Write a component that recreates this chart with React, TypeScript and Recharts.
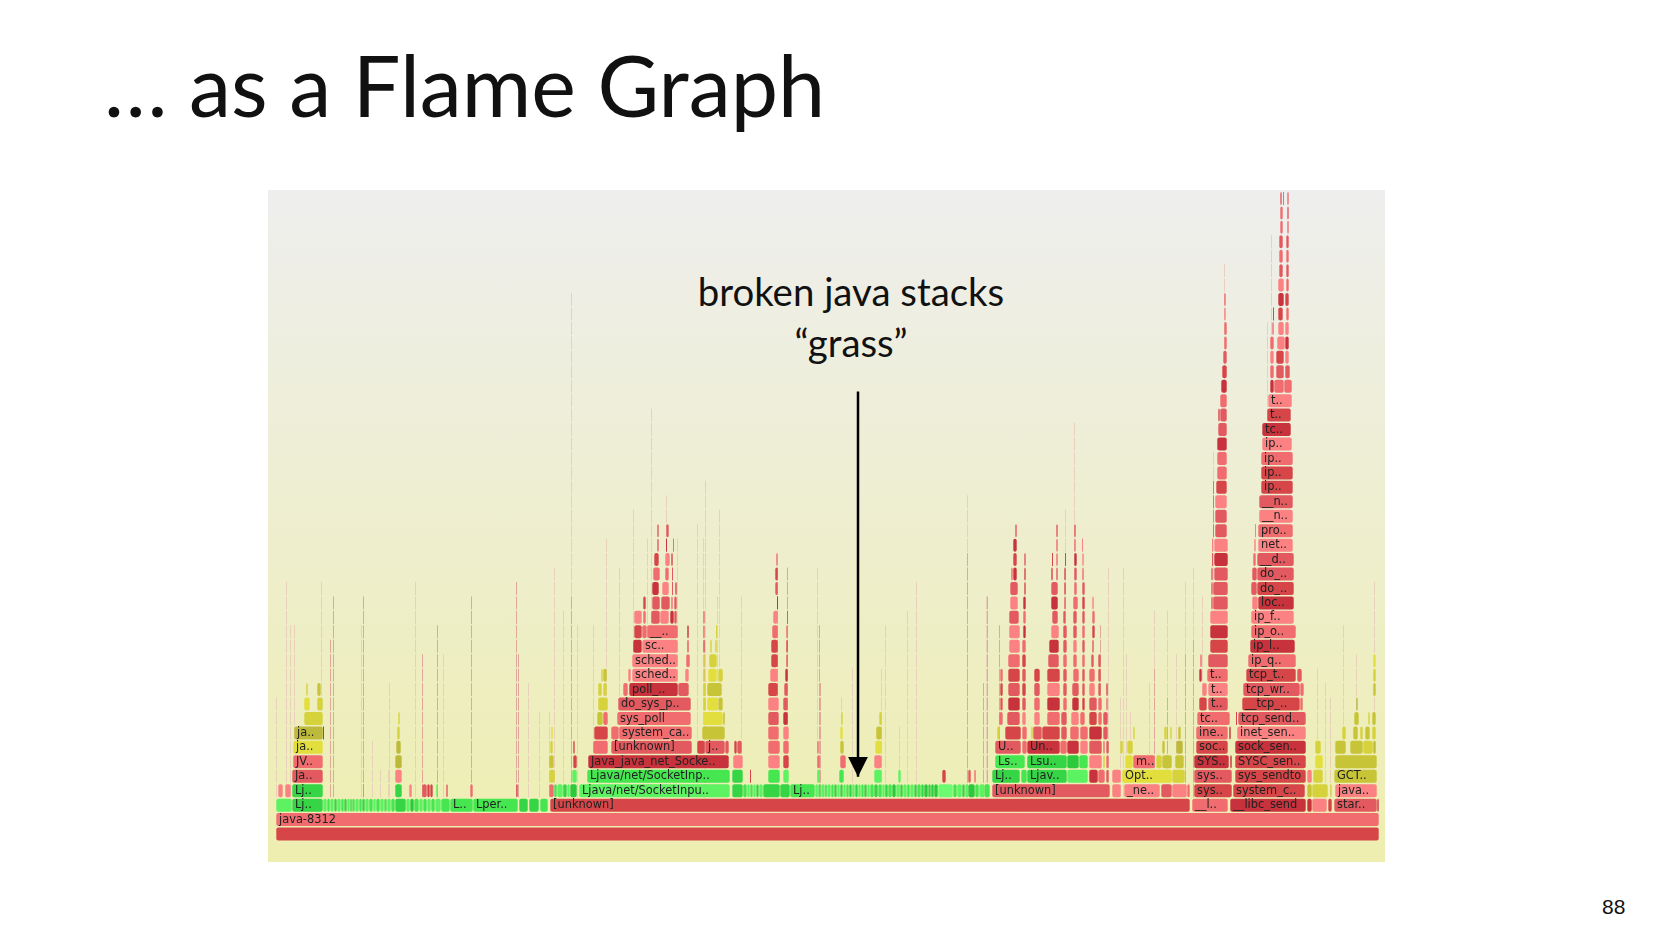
import { Bar, BarChart, LabelList, ReferenceLine, XAxis, YAxis } from 'recharts';

type Frame = [number, number, string, string?];

// tone keys map to PALETTE, x is in samples, one row per stack depth
const row0: Frame[] = [[0, 1103, 'r2']];
const row1: Frame[] = [[0, 1103, 'r4', 'java-8312']];
const row2: Frame[] = [
  [0, 16, 'g3'], [16, 47, 'g1', 'Lj..'], [47, 51, 'g3'], [51, 54, 'g2'], [54, 58, 'g3'], [58, 61, 'g1'], [61, 65, 'g3'],
  [65, 68, 'g2'], [68, 71, 'g1'], [71, 74, 'g3'], [74, 76, 'g1'], [76, 79, 'g2'], [79, 83, 'g3'], [83, 86, 'g2'],
  [86, 89, 'g1'], [89, 93, 'g3'], [93, 97, 'g2'], [97, 100, 'g3'], [100, 104, 'g2'], [104, 108, 'g3'], [108, 111, 'g2'],
  [111, 115, 'g3'], [115, 119, 'g2'], [119, 130, 'g1'], [130, 134, 'g3'], [134, 138, 'g0'], [138, 143, 'g2'], [143, 147, 'g3'],
  [147, 151, 'g2'], [151, 155, 'g3'], [155, 159, 'g2'], [159, 165, 'g3'], [165, 174, 'g2'], [174, 197, 'g2', 'L..'],
  [197, 242, 'g2', 'Lper..'], [243, 252, 'g1'], [253, 263, 'g1'], [264, 272, 'g2'], [274, 914, 'r2', '[unknown]'],
  [916, 952, 'r4', '__l..'], [954, 1030, 'r1', '__libc_send'], [1031, 1036, 'r1'], [1036, 1051, 'r5'], [1052, 1056, 'r2'],
  [1058, 1101, 'r3', 'star..'], [1101, 1103, 'r1'],
];
const row3: Frame[] = [
  [2, 7, 'r5'], [9, 15, 'r5'], [16, 47, 'g1', 'Lj..'], [87, 88, 'g2'], [119, 126, 'g1'], [133, 136, 'r5'], [146, 151, 'r3'],
  [151, 154, 'r2'], [154, 157, 'r2'], [160, 162, 'g3'], [170, 172, 'r3'], [194, 197, 'r4'], [240, 242, 'r2'],
  [273, 278, 'r4'], [278, 281, 'g2'], [281, 287, 'g3'], [287, 291, 'g1'], [291, 294, 'g3'], [294, 301, 'g0'],
  [303, 454, 'g3', 'Ljava/net/SocketInpu..'], [456, 467, 'g1'], [467, 471, 'g2'], [471, 474, 'g3'], [474, 477, 'g2'],
  [477, 480, 'g3'], [480, 483, 'g1'], [483, 487, 'g3'], [487, 504, 'g1'], [504, 514, 'g1'], [514, 539, 'g2', 'Lj..'],
  [539, 542, 'g3'], [542, 545, 'g2'], [545, 549, 'g3'], [549, 551, 'g1'], [551, 555, 'g3'], [555, 558, 'g2'], [558, 561, 'g1'],
  [561, 564, 'g3'], [564, 567, 'g1'], [567, 570, 'g3'], [570, 573, 'g2'], [573, 576, 'g1'], [576, 579, 'g3'], [579, 582, 'g1'],
  [582, 585, 'g3'], [585, 588, 'g2'], [588, 591, 'g1'], [591, 594, 'g3'], [594, 598, 'g2'], [598, 602, 'g1'], [602, 606, 'g2'],
  [606, 609, 'g3'], [609, 612, 'g1'], [612, 616, 'g2'], [616, 620, 'g0'], [620, 624, 'g3'], [624, 627, 'g1'], [627, 631, 'g3'],
  [631, 634, 'g2'], [634, 638, 'g3'], [638, 641, 'g1'], [641, 645, 'g2'], [645, 648, 'g1'], [648, 652, 'g0'], [652, 655, 'g1'],
  [655, 658, 'g0'], [658, 662, 'g0'], [662, 677, 'g4'], [677, 681, 'g2'], [681, 686, 'g3'], [686, 689, 'g1'], [689, 692, 'g3'],
  [692, 699, 'g0'], [699, 703, 'g2'], [703, 708, 'g3'], [708, 714, 'g2'], [716, 834, 'r3', '[unknown]'], [836, 845, 'r5'],
  [848, 884, 'r5', '_ne..'], [885, 896, 'r3'], [896, 911, 'r5'], [911, 914, 'r4'], [918, 956, 'r2', 'sys..'],
  [957, 1029, 'r2', 'system_c..'], [1031, 1036, 'y1'], [1036, 1052, 'y2'], [1054, 1056, 'y2'], [1059, 1101, 'r5', 'java..'],
];
const row4: Frame[] = [
  [16, 47, 'r3', 'Ja..'], [119, 126, 'r5'], [273, 279, 'y2'], [296, 301, 'g3'], [311, 454, 'g2', 'Ljava/net/SocketInp..'],
  [456, 467, 'g1'], [474, 475, 'r2'], [492, 504, 'g2'], [507, 513, 'g3'], [541, 544, 'g3'], [563, 568, 'g2'], [598, 606, 'g3'],
  [622, 625, 'g3'], [666, 670, 'r2'], [692, 695, 'r3'], [698, 700, 'r4'], [716, 744, 'g1', 'Lj..'], [745, 751, 'g2'],
  [751, 791, 'g1', 'Ljav..'], [791, 812, 'g3'], [813, 822, 'r1'], [822, 829, 'r4'], [830, 833, 'r3'], [836, 845, 'r5'],
  [846, 896, 'y3', 'Opt..'], [896, 909, 'y2'], [918, 956, 'r3', 'sys..'], [959, 1030, 'r2', 'sys_sendto'], [1031, 1036, 'r5'],
  [1037, 1047, 'y2'], [1058, 1101, 'y1', 'GCT..'],
];
const row5: Frame[] = [
  [17, 47, 'r4', 'JV..'], [119, 126, 'y0'], [273, 278, 'y1'], [297, 301, 'r2'], [312, 453, 'r1', 'Java_java_net_Socke..'],
  [457, 467, 'r5'], [492, 504, 'r5'], [507, 513, 'r2'], [541, 544, 'r4'], [564, 570, 'r4'], [598, 606, 'r5'],
  [719, 749, 'g2', 'Ls..'], [751, 791, 'g1', 'Lsu..'], [791, 803, 'g0'], [803, 812, 'g2'], [813, 826, 'r5'], [827, 829, 'y2'],
  [830, 833, 'r4'], [849, 857, 'y3'], [857, 879, 'r4', 'm..'], [880, 886, 'y2'], [886, 896, 'y1'], [899, 908, 'y1'],
  [918, 953, 'r1', 'SYS..'], [954, 956, 'r1'], [959, 1030, 'r2', 'SYSC_sen..'], [1039, 1047, 'y3'], [1059, 1101, 'y1'],
];
const row6: Frame[] = [
  [17, 47, 'y3', 'ja..'], [120, 125, 'y0'], [274, 277, 'y2'], [297, 299, 'r2'], [317, 332, 'r4'], [335, 416, 'r3', '[unknown]'],
  [421, 429, 'r2'], [429, 449, 'r3', 'j..'], [449, 453, 'r3'], [458, 461, 'r2'], [461, 466, 'r3'], [492, 504, 'r4'], [507, 513, 'r4'],
  [541, 543, 'r4'], [564, 568, 'y1'], [599, 606, 'y3'], [719, 745, 'r3', 'U..'], [746, 751, 'r4'], [751, 784, 'r1', 'Un..'],
  [784, 791, 'r4'], [791, 803, 'r1'], [804, 812, 'r5'], [813, 826, 'r3'], [827, 829, 'r4'], [830, 833, 'r3'], [844, 847, 'y2'],
  [851, 857, 'y2'], [886, 889, 'y1'], [900, 907, 'y0'], [920, 952, 'r2', 'soc..'], [959, 1030, 'r1', 'sock_sen..'],
  [1039, 1045, 'y2'], [1059, 1070, 'y1'], [1074, 1087, 'y1'], [1087, 1097, 'y2'], [1097, 1100, 'y0'],
];
const row7: Frame[] = [
  [18, 47, 'y0', 'ja..'], [47, 48, 'r1'], [121, 124, 'y2'], [275, 277, 'y3'], [318, 332, 'r2'], [335, 343, 'r4'], [343, 416, 'r4', 'system_ca..'],
  [426, 449, 'y1'], [492, 503, 'r4'], [507, 513, 'r5'], [564, 567, 'y3'], [600, 606, 'y1'], [721, 724, 'y2'], [729, 745, 'r2'],
  [746, 751, 'r4'], [755, 757, 'y2'], [757, 766, 'r3'], [766, 784, 'r2'], [785, 791, 'r3'], [794, 803, 'r4'], [804, 812, 'r4'],
  [813, 826, 'r1'], [827, 832, 'r3'], [857, 859, 'y2'], [888, 891, 'y2'], [894, 896, 'y2'], [902, 905, 'y1'],
  [920, 952, 'r4', 'ine..'], [953, 955, 'r1'], [961, 1030, 'r5', 'inet_sen..'], [1066, 1070, 'y2'], [1077, 1082, 'y1'],
  [1084, 1087, 'y2'], [1089, 1094, 'y1'], [1096, 1100, 'y2'],
];
const row8: Frame[] = [
  [28, 47, 'y2'], [122, 124, 'y2'], [321, 327, 'y1'], [327, 332, 'r4'], [341, 415, 'r4', 'sys_poll'], [427, 447, 'y3'],
  [447, 449, 'y0'], [492, 503, 'r3'], [507, 512, 'r1'], [565, 567, 'y2'], [603, 606, 'y2'], [723, 727, 'r4'], [731, 744, 'r3'],
  [746, 750, 'r5'], [758, 764, 'r5'], [771, 784, 'r4'], [785, 791, 'r3'], [795, 803, 'r5'], [804, 809, 'r4'], [813, 821, 'r2'],
  [822, 826, 'r4'], [827, 832, 'r3'], [921, 954, 'r4', 'tc..'], [960, 961, 'r2'], [962, 1030, 'r3', 'tcp_send..'],
  [1078, 1083, 'y1'], [1092, 1094, 'y2'], [1096, 1100, 'y1'],
];
const row9: Frame[] = [
  [28, 34, 'y3'], [41, 47, 'y2'], [322, 332, 'y2'], [342, 415, 'r3', 'do_sys_p..'], [427, 430, 'y2'], [431, 442, 'y3'], [442, 447, 'y1'],
  [492, 503, 'r5'], [507, 512, 'r3'], [724, 727, 'r3'], [732, 744, 'r1'], [746, 750, 'r3'], [758, 764, 'r4'], [771, 784, 'r1'],
  [787, 791, 'r4'], [796, 803, 'r1'], [806, 809, 'r2'], [813, 821, 'r3'], [822, 826, 'r4'], [830, 832, 'r4'], [923, 931, 'r2'],
  [932, 952, 'r3', 't..'], [966, 1024, 'r2', '__tcp_..'], [1024, 1027, 'r4'], [1080, 1082, 'y0'],
];
const row10: Frame[] = [
  [30, 32, 'y2'], [41, 45, 'y1'], [322, 326, 'y2'], [327, 331, 'y2'], [347, 352, 'r4'], [353, 402, 'r1', 'poll_..'], [402, 413, 'r3'],
  [427, 430, 'y2'], [431, 446, 'y1'], [492, 502, 'r2'], [508, 512, 'r3'], [724, 727, 'r2'], [732, 744, 'r3'], [746, 750, 'r2'],
  [758, 764, 'r3'], [771, 784, 'r5'], [787, 791, 'r3'], [796, 803, 'r3'], [806, 809, 'r3'], [813, 819, 'r5'], [822, 825, 'r3'],
  [830, 832, 'r2'], [926, 931, 'r5'], [932, 952, 'r5', 't..'], [967, 1024, 'r3', 'tcp_wr..'], [1024, 1028, 'r4'], [1097, 1100, 'y1'],
];
const row11: Frame[] = [
  [325, 327, 'y2'], [327, 331, 'y1'], [352, 355, 'r5'], [356, 402, 'r5', 'sched..'], [409, 413, 'r5'], [427, 429, 'y2'],
  [432, 441, 'y3'], [442, 447, 'y2'], [494, 502, 'r5'], [509, 512, 'r1'], [724, 727, 'r4'], [732, 744, 'r2'], [746, 750, 'r3'],
  [758, 764, 'r2'], [771, 784, 'r2'], [787, 791, 'r3'], [797, 803, 'r4'], [806, 809, 'r3'], [813, 819, 'r4'], [822, 825, 'r3'],
  [923, 926, 'r1'], [931, 952, 'r4', 't..'], [970, 1020, 'r2', 'tcp_t..'], [1021, 1026, 'r3'], [1097, 1100, 'y2'],
];
const row12: Frame[] = [
  [356, 402, 'r5', 'sched..'], [410, 414, 'r4'], [427, 429, 'y2'], [433, 441, 'y2'], [495, 502, 'r2'], [510, 512, 'r3'],
  [732, 744, 'r4'], [746, 750, 'r2'], [772, 783, 'r3'], [787, 791, 'r4'], [797, 801, 'r4'], [806, 809, 'r4'], [815, 818, 'r3'],
  [822, 825, 'r3'], [924, 926, 'r4'], [932, 952, 'r3'], [972, 1020, 'r4', 'ip_q..'], [1097, 1100, 'y3'],
];
const row13: Frame[] = [
  [357, 366, 'r1'], [366, 402, 'r5', 'sc..'], [411, 413, 'r3'], [427, 429, 'r3'], [434, 436, 'y2'], [439, 441, 'y2'], [495, 502, 'r2'],
  [510, 512, 'r2'], [733, 744, 'r5'], [746, 750, 'r4'], [773, 783, 'r1'], [787, 791, 'r3'], [797, 801, 'r5'], [806, 809, 'r3'],
  [816, 818, 'r3'], [934, 952, 'r2'], [974, 1019, 'r1', 'ip_l..'],
];
const row14: Frame[] = [
  [358, 366, 'r2'], [366, 371, 'r4'], [371, 402, 'r4', '__..'], [411, 413, 'r1'], [427, 429, 'r4'], [440, 441, 'y2'], [496, 502, 'r4'],
  [510, 512, 'r4'], [733, 744, 'r5'], [747, 750, 'r1'], [775, 783, 'r5'], [787, 791, 'r3'], [797, 801, 'r3'], [806, 809, 'r4'],
  [816, 819, 'r2'], [934, 952, 'r1'], [975, 1020, 'r4', 'ip_o..'],
];
const row15: Frame[] = [
  [358, 366, 'r5'], [367, 370, 'r4'], [375, 384, 'r3'], [384, 393, 'r5'], [394, 398, 'r1'], [398, 401, 'r3'], [427, 429, 'r4'],
  [497, 502, 'r5'], [511, 512, 'r3'], [733, 743, 'r3'], [747, 750, 'r4'], [776, 782, 'r3'], [787, 790, 'r3'], [797, 801, 'r3'],
  [806, 809, 'r3'], [816, 819, 'r4'], [934, 952, 'r5'], [975, 1018, 'r5', 'ip_f..'],
];
const row16: Frame[] = [
  [367, 370, 'r2'], [376, 384, 'r3'], [385, 394, 'r3'], [395, 397, 'r4'], [398, 401, 'r3'], [501, 502, 'r1'], [734, 742, 'r5'],
  [747, 750, 'r1'], [775, 782, 'r1'], [788, 790, 'r3'], [797, 802, 'r4'], [806, 809, 'r2'], [816, 818, 'r5'], [935, 937, 'r3'],
  [937, 952, 'r3'], [976, 982, 'r5'], [982, 1018, 'r1', 'loc..'],
];
const row17: Frame[] = [
  [376, 383, 'r1'], [386, 393, 'r5'], [396, 397, 'r3'], [399, 401, 'r2'], [499, 502, 'r3'], [734, 742, 'r3'], [748, 750, 'r2'],
  [775, 782, 'r3'], [788, 790, 'r2'], [798, 801, 'r4'], [806, 809, 'r3'], [935, 937, 'r3'], [937, 952, 'r3'], [975, 981, 'r3'],
  [981, 1018, 'r2', 'do_..'],
];
const row18: Frame[] = [
  [377, 384, 'r4'], [389, 393, 'r4'], [396, 397, 'r3'], [499, 502, 'r2'], [735, 737, 'r4'], [737, 741, 'r1'], [748, 750, 'r2'],
  [775, 777, 'r2'], [780, 782, 'r3'], [788, 790, 'r2'], [798, 801, 'r3'], [806, 808, 'r4'], [935, 937, 'r3'], [938, 952, 'r3'],
  [976, 981, 'r3'], [981, 1018, 'r3', 'do_..'],
];
const row19: Frame[] = [
  [378, 383, 'r2'], [389, 394, 'r5'], [395, 397, 'r2'], [500, 502, 'r4'], [737, 741, 'r2'], [748, 750, 'r3'], [776, 777, 'r2'],
  [780, 782, 'r4'], [789, 790, 'r2'], [798, 801, 'r1'], [806, 808, 'r5'], [936, 937, 'r3'], [938, 952, 'r1'], [977, 980, 'r4'],
  [981, 1018, 'r3', '__d..'],
];
const row20: Frame[] = [
  [381, 383, 'r3'], [390, 391, 'r1'], [397, 398, 'r4'], [737, 741, 'r1'], [780, 782, 'r4'], [798, 800, 'r4'], [806, 807, 'r5'],
  [936, 937, 'r5'], [938, 952, 'r5'], [978, 980, 'r5'], [982, 1017, 'r5', 'net..'],
];
const row21: Frame[] = [
  [381, 383, 'r3'], [390, 393, 'r3'], [739, 741, 'r3'], [780, 782, 'r3'], [798, 800, 'r3'], [937, 938, 'r4'], [939, 951, 'r3'],
  [979, 980, 'r5'], [982, 1017, 'r4', 'pro..'],
];
const row22: Frame[] = [[937, 938, 'r5'], [939, 951, 'r3'], [983, 1017, 'r5', '__n..']];
const row23: Frame[] = [[937, 938, 'r4'], [939, 951, 'r5'], [983, 1017, 'r3', '__n..']];
const row24: Frame[] = [[937, 938, 'r4'], [940, 951, 'r2'], [985, 1017, 'r2', 'ip..']];
const row25: Frame[] = [[941, 951, 'r4'], [985, 1017, 'r2', 'ip..']];
const row26: Frame[] = [[941, 951, 'r4'], [985, 1017, 'r4', 'ip..']];
const row27: Frame[] = [[941, 951, 'r1'], [986, 1016, 'r5', 'ip..']];
const row28: Frame[] = [[942, 951, 'r3'], [986, 1015, 'r1', 'tc..']];
const row29: Frame[] = [[942, 944, 'r2'], [944, 951, 'r3'], [991, 1015, 'r2', 't..']];
const row30: Frame[] = [[944, 951, 'r4'], [992, 1016, 'r5', 't..']];
const row31: Frame[] = [[945, 951, 'r1'], [994, 998, 'r1'], [998, 1008, 'r4'], [1008, 1016, 'r4']];
const row32: Frame[] = [[946, 951, 'r2'], [994, 998, 'r4'], [1000, 1008, 'r3'], [1009, 1014, 'r3']];
const row33: Frame[] = [[947, 951, 'r3'], [994, 998, 'r5'], [1000, 1008, 'r2'], [1009, 1013, 'r5']];
const row34: Frame[] = [[948, 951, 'r4'], [994, 998, 'r4'], [1001, 1009, 'r5'], [1009, 1013, 'r1']];
const row35: Frame[] = [[948, 951, 'r4'], [996, 998, 'r4'], [1002, 1008, 'r5'], [1009, 1013, 'r5']];
const row36: Frame[] = [[948, 950, 'r5'], [997, 998, 'r2'], [1002, 1007, 'r2'], [1010, 1013, 'r4']];
const row37: Frame[] = [[948, 950, 'r4'], [1002, 1008, 'r1'], [1009, 1013, 'r2']];
const row38: Frame[] = [[1002, 1008, 'r5'], [1010, 1013, 'r4']];
const row39: Frame[] = [[1003, 1007, 'r3'], [1010, 1013, 'r3']];
const row40: Frame[] = [[1003, 1007, 'r4'], [1010, 1013, 'r4']];
const row41: Frame[] = [[1003, 1007, 'r3'], [1010, 1013, 'r3']];
const row42: Frame[] = [[1004, 1007, 'r4'], [1011, 1013, 'r4']];
const row43: Frame[] = [[1004, 1007, 'r4'], [1011, 1013, 'r3']];
const row44: Frame[] = [[1004, 1006, 'r3'], [1007, 1008, 'r4'], [1011, 1013, 'r4']];

const stacks = [
  row0, row1, row2, row3, row4, row5, row6, row7, row8, row9, row10, row11, row12, row13, row14, row15, row16, row17, row18,
  row19, row20, row21, row22, row23, row24, row25, row26, row27, row28, row29, row30, row31, row32, row33, row34, row35,
  row36, row37, row38, row39, row40, row41, row42, row43, row44,
];

// the "grass": one-sample stacks, [sample, top depth]
const paleGrass = [
  [0, 9], [10, 17], [14, 14], [18, 14], [45, 17], [85, 14], [96, 6], [104, 4], [112, 4], [113, 10], [139, 17], [167, 12],
  [252, 10], [263, 8], [273, 8], [278, 18], [287, 15], [295, 37], [301, 14], [317, 14], [330, 20], [343, 18], [357, 22],
  [371, 20], [375, 29], [390, 23], [401, 20], [421, 21], [427, 20], [429, 24], [441, 16], [443, 22], [465, 16], [541, 18],
  [565, 9], [576, 11], [605, 11], [609, 14], [623, 7], [631, 15], [640, 17], [691, 23], [710, 16], [789, 22], [798, 28],
  [832, 18], [844, 9], [847, 18], [850, 12], [854, 8], [873, 10], [878, 15], [891, 15], [900, 12], [909, 17], [917, 18],
  [926, 16], [937, 26], [948, 39], [991, 35], [995, 41], [1041, 11], [1049, 10], [1054, 9], [1067, 14], [1080, 12], [1098, 17],
];
const roseGrass = [
  [54, 13], [57, 16], [87, 16], [146, 12], [161, 14], [195, 16], [240, 17], [242, 12], [295, 16], [428, 13], [501, 18],
  [511, 18], [543, 14], [544, 10], [691, 19], [707, 10], [711, 16], [723, 14], [824, 14], [878, 11], [891, 9], [909, 12],
  [917, 13],
];

const PALETTE: Record<string, string> = {
  r1: '#c8323c',
  r2: '#d64649',
  r3: '#e25a60',
  r4: '#f06c6e',
  r5: '#fb8182',
  g0: '#2cc93c',
  g1: '#36d545',
  g2: '#46e651',
  g3: '#5cf262',
  g4: '#6cfb70',
  y0: '#bdb93a',
  y1: '#c8c438',
  y2: '#d6d23c',
  y3: '#e2de3e',
  pale: '#e9d0ba',
  rose: '#e0a899',
};

const grass = (list: number[][], tone: string) =>
  list.flatMap(([sample, top]) => {
    const rows = [];
    for (let depth = 3; depth <= top; depth++) rows.push({ depth, span: [sample, sample + 1], tone });
    return rows;
  });

const frames = [
  ...grass(paleGrass, 'pale'),
  ...grass(roseGrass, 'rose'),
  ...stacks.flatMap((row, depth) =>
    row.map(([start, end, tone, label]) => ({ depth, span: [start, end], tone, label })),
  ),
];

const FrameBox = (props: any) => {
  const { x, y, width, height, tone } = props;
  const thin = width < 2;
  return (
    <rect
      x={x + (thin ? 0 : 0.3)}
      y={y}
      width={thin ? width : width - 0.6}
      height={height}
      rx={thin ? 0 : 2}
      fill={PALETTE[tone]}
    />
  );
};

const latin = 'Lato, "Open Sans", sans-serif';

export default function App() {
  return (
    <div style={{ position: 'absolute', left: 0, top: 0, width: 1654, height: 931, background: '#fff', overflow: 'hidden' }}>
      <div style={{ position: 'absolute', left: 104, top: 34, fontFamily: latin, fontSize: 84.5, color: '#111', whiteSpace: 'nowrap' }}>
        … as a Flame Graph
      </div>
      <div style={{ position: 'absolute', left: 268, top: 190, width: 1117, height: 672, background: 'linear-gradient(#eeeeee, #eeeeb0)' }}>
        <BarChart
          width={1117}
          height={672}
          data={frames}
          layout="vertical"
          margin={{ top: 0, right: 0, bottom: 0, left: 0 }}
          style={{ filter: 'blur(0.3px)' }}
        >
          <defs>
            <marker id="arrowHead" markerUnits="userSpaceOnUse" markerWidth="21" markerHeight="21" refX="10" refY="20" orient="0">
              <path d="M0 0 L20 0 L10 20 Z" fill="#000" />
            </marker>
          </defs>
          <XAxis type="number" domain={[-8, 1109]} hide allowDataOverflow />
          <YAxis type="number" dataKey="depth" domain={[-1.955, 44.565]} reversed hide allowDataOverflow />
          <Bar dataKey="span" barSize={13} shape={FrameBox} isAnimationActive={false}>
            <LabelList
              dataKey="label"
              position="insideLeft"
              offset={3}
              dy={-1}
              fill="#222"
              fontSize={11.4}
              fontFamily='"DejaVu Sans", Verdana, sans-serif'
            />
          </Bar>
          <ReferenceLine
            segment={[{ x: 582, y: 30.62 }, { x: 582, y: 3.95 }]}
            stroke="#000"
            strokeWidth={2.5}
            markerEnd="url(#arrowHead)"
          />
        </BarChart>
      </div>
      <div style={{ position: 'absolute', left: 551, width: 600, top: 266, textAlign: 'center', fontFamily: latin, fontSize: 38.4, lineHeight: '51px', color: '#111' }}>
        broken java stacks
        <br />
        “grass”
      </div>
      <div style={{ position: 'absolute', left: 1602, top: 895, fontFamily: '"Liberation Sans", sans-serif', fontSize: 21, color: '#111' }}>88</div>
    </div>
  );
}
